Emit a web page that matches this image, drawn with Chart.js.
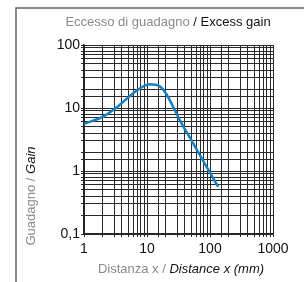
<!DOCTYPE html>
<html>
<head>
<meta charset="utf-8">
<script src="https://cdn.jsdelivr.net/npm/chart.js@4"></script>
<style>
  html, body { margin: 0; padding: 0; background: #fff; }
  #wrap { width: 304px; height: 282px; }
</style>
</head>
<body>
<div id="wrap"><canvas id="gainChart" width="304" height="282"></canvas></div>
<script>
// Dati (scala log-log)
const distanza = [1, 2, 3.4, 6, 11, 16, 20, 33, 54, 88, 135];
const guadagno = [5.6, 7.3, 10.5, 17, 23.8, 22, 17, 6.5, 2.75, 1.17, 0.56];
const xLabels = { 1: '1', 10: '10', 100: '100', 1000: '1000' };
const yLabels = { 0.1: '0,1', 1: '1', 10: '10', 100: '100' };

const FONT = '"Liberation Sans Narrow", "Liberation Sans", sans-serif';
const GRIGIO = '#8a8a8a';
const NERO = '#111';

// scrive due pezzi di testo con colori/stili diversi, centrati
function doppioTesto(ctx, x, y, parti) {
    let tot = 0;
    parti.forEach(p => { ctx.font = p.font; p.w = ctx.measureText(p.text).width; tot += p.w; });
    let cx = x - tot / 2;
    parti.forEach(p => {
        ctx.font = p.font;
        ctx.fillStyle = p.color;
        ctx.fillText(p.text, cx, y);
        cx += p.w;
    });
}

const titoli = {
    id: 'titoli',
    afterDraw(chart) {
        const ctx = chart.ctx;
        ctx.save();
        // cornice
        ctx.strokeStyle = '#666';
        ctx.lineWidth = 1.5;
        ctx.beginPath();
        ctx.moveTo(16, 282);
        ctx.lineTo(16, 8);
        ctx.lineTo(304, 8);
        ctx.stroke();

        ctx.textBaseline = 'middle';
        ctx.textAlign = 'left';
        doppioTesto(ctx, 168, 22, [
            { text: 'Eccesso di guadagno ', font: '13px ' + FONT, color: GRIGIO },
            { text: '/ Excess gain', font: '13px ' + FONT, color: NERO }
        ]);
        doppioTesto(ctx, 181, 269, [
            { text: 'Distanza x / ', font: '13px ' + FONT, color: GRIGIO },
            { text: 'Distance x (mm)', font: 'italic 13px ' + FONT, color: NERO }
        ]);
        ctx.translate(31, 196);
        ctx.rotate(-Math.PI / 2);
        doppioTesto(ctx, 0, 0, [
            { text: 'Guadagno / ', font: '13px ' + FONT, color: GRIGIO },
            { text: 'Gain', font: 'italic 13px ' + FONT, color: NERO }
        ]);
        ctx.restore();
    }
};

const ctx = document.getElementById('gainChart').getContext('2d');

new Chart(ctx, {
    type: 'line',
    data: {
        datasets: [{
            data: distanza.map((x, i) => ({ x: x, y: guadagno[i] })),
            borderColor: '#1a7fc1',
            borderWidth: 2.5,
            pointRadius: 0,
            cubicInterpolationMode: 'monotone',
            fill: false
        }]
    },
    options: {
        responsive: false,
        animation: false,
        layout: { padding: { top: 45, right: 31, left: 0, bottom: 0 } },
        plugins: { legend: { display: false }, tooltip: { enabled: false } },
        scales: {
            x: {
                type: 'logarithmic',
                min: 1,
                max: 1000,
                afterFit: s => { s.height = 48; },
                grid: { color: '#2a2a2a', lineWidth: 1, tickLength: 3 },
                border: { color: '#222', width: 1.5 },
                ticks: {
                    autoSkip: false,
                    maxRotation: 0,
                    padding: 4,
                    color: NERO,
                    font: { family: FONT, size: 14 },
                    callback: v => xLabels[v] || ''
                }
            },
            y: {
                type: 'logarithmic',
                min: 0.1,
                max: 100,
                afterFit: s => { s.width = 84; },
                grid: { color: '#2a2a2a', lineWidth: 1, tickLength: 3 },
                border: { color: '#222', width: 1.5 },
                ticks: {
                    autoSkip: false,
                    padding: 1,
                    color: NERO,
                    font: { family: FONT, size: 14 },
                    callback: v => yLabels[Math.round(v * 10) / 10] || ''
                }
            }
        }
    },
    plugins: [titoli]
});
</script>
</body>
</html>
